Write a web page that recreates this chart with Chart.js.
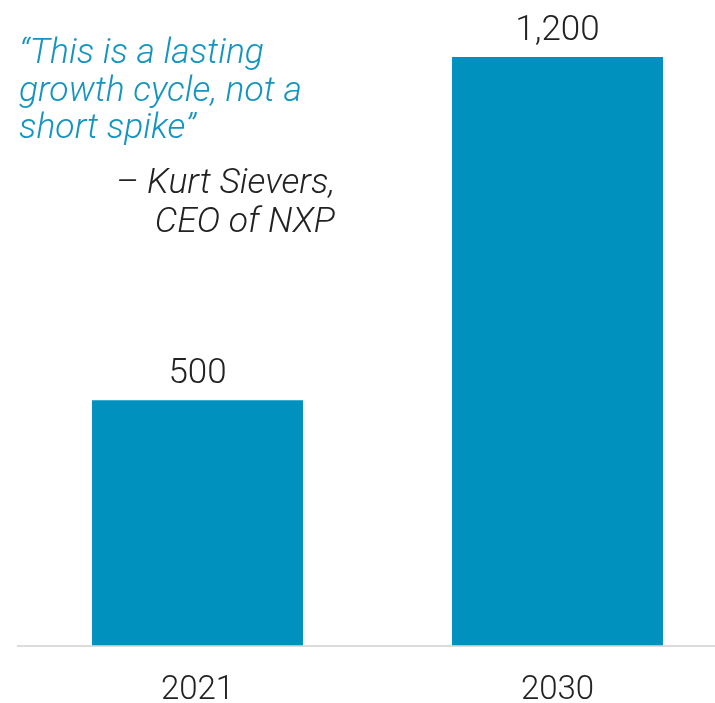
<!DOCTYPE html>
<html>
<head>
<meta charset="utf-8">
<script src="https://cdn.jsdelivr.net/npm/chart.js@4"></script>
<style>
  html, body { margin: 0; padding: 0; background: #ffffff; overflow: hidden; }
  #wrap { width: 715px; height: 703px; overflow: hidden; }
  canvas { display: block; }
</style>
</head>
<body>
<div id="wrap"><canvas id="c" width="740" height="703"></canvas></div>
<script>
// Market size by year
const categories = ['2021', '2030'];
const values = [500, 1200];
const valueLabels = ['500', '1,200'];

// Quote and attribution
const quoteLines = ['\u201CThis is a lasting', 'growth cycle, not a', 'short spike\u201D'];
const attributionLines = ['\u2013 Kurt Sievers,', 'CEO of NXP'];

const BAR_COLOR = '#0091bf';
const QUOTE_COLOR = '#1494c0';
const TEXT_COLOR = '#222222';
const FONT = 'Roboto, "Noto Sans", sans-serif';

// Value labels above each bar, positioned from the bar elements
const valueLabelPlugin = {
  id: 'valueLabels',
  afterDatasetsDraw(chart) {
    const ctx = chart.ctx;
    const meta = chart.getDatasetMeta(0);
    ctx.save();
    ctx.font = '300 35px ' + FONT;
    ctx.fillStyle = TEXT_COLOR;
    ctx.textAlign = 'center';
    ctx.textBaseline = 'alphabetic';
    meta.data.forEach((bar, i) => {
      ctx.fillText(valueLabels[i], bar.x, bar.y - 17);
    });
    ctx.restore();
  }
};

// Quote block in the upper left
const quotePlugin = {
  id: 'quote',
  afterDraw(chart) {
    const ctx = chart.ctx;
    ctx.save();
    ctx.font = 'italic 300 35.5px ' + FONT;
    ctx.fillStyle = QUOTE_COLOR;
    ctx.textAlign = 'left';
    ctx.textBaseline = 'alphabetic';
    quoteLines.forEach((t, i) => ctx.fillText(t, 19, 63 + i * 37.5));
    ctx.fillStyle = TEXT_COLOR;
    ctx.textAlign = 'right';
    attributionLines.forEach((t, i) => ctx.fillText(t, 335, 193 + i * 39));
    ctx.restore();
  }
};

new Chart(document.getElementById('c'), {
  type: 'bar',
  data: {
    labels: categories,
    datasets: [{
      data: values,
      backgroundColor: BAR_COLOR,
      borderWidth: 0,
      barPercentage: 0.586,
      categoryPercentage: 1.0
    }]
  },
  options: {
    responsive: false,
    devicePixelRatio: 1,
    animation: false,
    layout: { padding: { left: 17.5, right: 2.5, top: 0, bottom: 0 } },
    plugins: { legend: { display: false }, tooltip: { enabled: false } },
    scales: {
      x: {
        grid: { display: false, drawTicks: false },
        border: { display: true, color: '#dcdcdc', width: 2 },
        ticks: {
          color: TEXT_COLOR,
          font: { family: FONT, size: 33, weight: '300' },
          padding: 25
        },
        afterFit(scale) { scale.height = 57.5; }
      },
      y: {
        display: false,
        min: 0,
        max: 1316
      }
    }
  },
  plugins: [valueLabelPlugin, quotePlugin]
});
</script>
</body>
</html>
